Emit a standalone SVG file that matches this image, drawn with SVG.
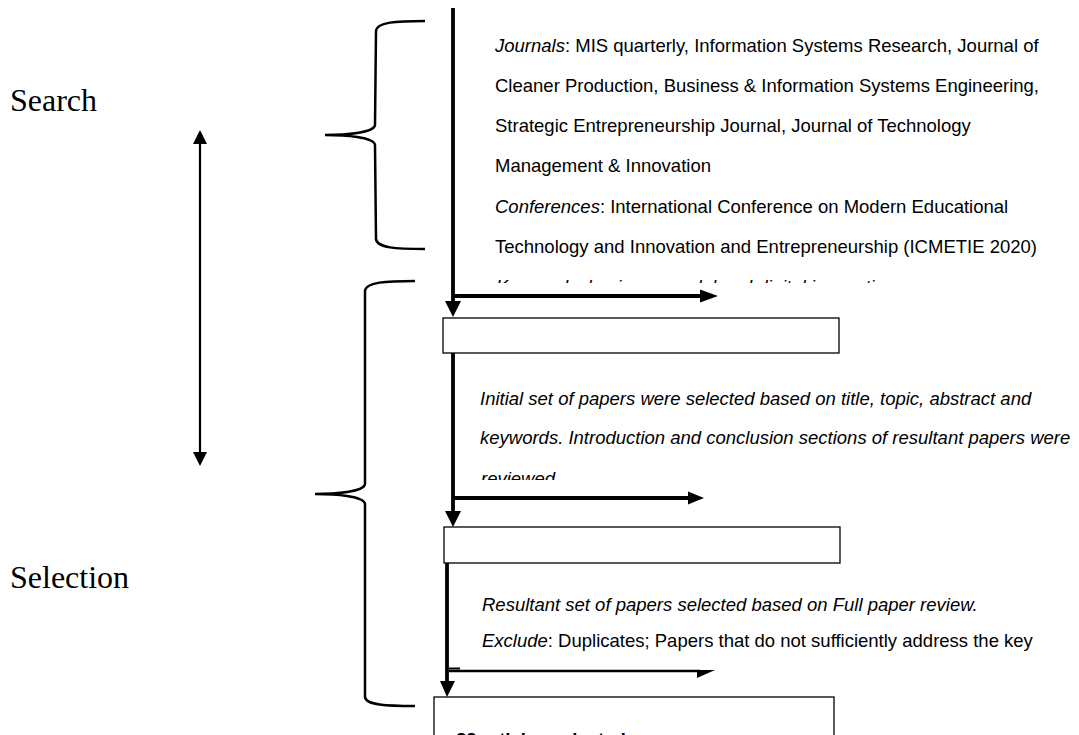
<svg xmlns="http://www.w3.org/2000/svg" width="1079" height="735" viewBox="0 0 1079 735">
  <style>
    .label { font-family: "Liberation Serif", "Times New Roman", serif; font-size: 32px; fill: #000; }
    .body { font-family: "Liberation Sans", Arial, sans-serif; font-size: 18.5px; fill: #000; }
    .it { font-style: italic; }
    .bold { font-weight: bold; }
    .brace { fill: none; stroke: #000; stroke-width: 2.5; }
    .flow { fill: none; stroke: #000; stroke-width: 3.8; }
    .box { fill: #fff; stroke: #000; stroke-width: 1.3; }
    .head { fill: #000; stroke: none; }
  </style>
  <defs>
    <clipPath id="clipKeywords"><rect x="0" y="0" width="1079" height="283"/></clipPath>
    <clipPath id="clipReviewed"><rect x="0" y="360" width="1079" height="120"/></clipPath>
  </defs>
  <rect x="0" y="0" width="1079" height="735" fill="#fff"/>

  <!-- phase labels -->
  <g id="label-search"><text class="label" x="10" y="111">Search</text></g>
  <g id="label-selection"><text class="label" x="10" y="588">Selection</text></g>

  <!-- double-headed arrow between phases -->
  <g id="phase-arrow">
    <line x1="200" y1="143" x2="200" y2="453" stroke="#000" stroke-width="2.2"/>
    <polygon class="head" points="200,130 193,144 207,144"/>
    <polygon class="head" points="200,466 193,452 207,452"/>
  </g>

  <!-- curly braces -->
  <g id="brace-search">
    <path class="brace" d="M425,21 C396,21 377,22 376,31 L375,125 C374,133 345,135 325,135 C345,135 374,137 375,145 L376,239 C377,248 396,249 425,249"/>
  </g>
  <g id="brace-selection">
    <path class="brace" d="M415,281 C386,281 366,282 365,291 L365,484 C364,492 335,494 315,494 C335,494 364,496 365,504 L365,697 C366,705 386,706 415,706"/>
  </g>

  <!-- search criteria text -->
  <g id="search-text">
    <text class="body" x="495" y="52"><tspan class="it">Journals</tspan>: MIS quarterly, Information Systems Research, Journal of</text>
    <text class="body" x="495" y="92">Cleaner Production, Business &amp; Information Systems Engineering,</text>
    <text class="body" x="495" y="132">Strategic Entrepreneurship Journal, Journal of Technology</text>
    <text class="body" x="495" y="172">Management &amp; Innovation</text>
    <text class="body" x="495" y="213"><tspan class="it">Conferences</tspan>: International Conference on Modern Educational</text>
    <text class="body" x="495" y="253">Technology and Innovation and Entrepreneurship (ICMETIE 2020)</text>
    <text class="body it" x="496" y="293" clip-path="url(#clipKeywords)">Keywords: business model and digital innovation</text>
  </g>

  <!-- first screening text -->
  <g id="screening-text">
    <text class="body it" x="480" y="405">Initial set of papers were selected based on title, topic, abstract and</text>
    <text class="body it" x="480" y="444">keywords. Introduction and conclusion sections of resultant papers were</text>
    <text class="body it" x="481" y="485" clip-path="url(#clipReviewed)">reviewed</text>
  </g>

  <!-- full review text -->
  <g id="review-text">
    <text class="body it" x="482" y="611">Resultant set of papers selected based on Full paper review.</text>
    <text class="body" x="482" y="647"><tspan class="it">Exclude</tspan>: Duplicates; Papers that do not sufficiently address the key</text>
  </g>

  <!-- process boxes -->
  <g id="box-1"><rect class="box" x="443" y="318" width="396" height="35"/></g>
  <g id="box-2"><rect class="box" x="444" y="527" width="396" height="36"/></g>
  <g id="box-3">
    <rect class="box" x="434" y="697" width="400" height="50"/>
    <text class="body bold" x="456" y="746">38 articles selected</text>
  </g>

  <!-- connectors -->
  <g id="connectors">
    <line class="flow" x1="453" y1="8" x2="453" y2="303"/>
    <polygon class="head" points="453,317 445,301 461,301"/>
    <line class="flow" x1="453" y1="296" x2="703" y2="296"/>
    <polygon class="head" points="718,296 700,289.5 700,302.5"/>

    <line class="flow" x1="453" y1="353" x2="453" y2="513"/>
    <polygon class="head" points="453,527 445,511 461,511"/>
    <line class="flow" x1="453" y1="498" x2="690" y2="498"/>
    <polygon class="head" points="704,498 688,491.5 688,504.5"/>

    <line class="flow" x1="447" y1="563" x2="447" y2="683"/>
    <polygon class="head" points="447,697 440,681 455,681"/>
    <line x1="449" y1="671" x2="700" y2="671" stroke="#000" stroke-width="2.5"/>
    <line x1="449" y1="668.5" x2="460" y2="668.5" stroke="#000" stroke-width="2"/>
    <polygon class="head" points="715,670 697,670 697,678"/>
  </g>
</svg>
